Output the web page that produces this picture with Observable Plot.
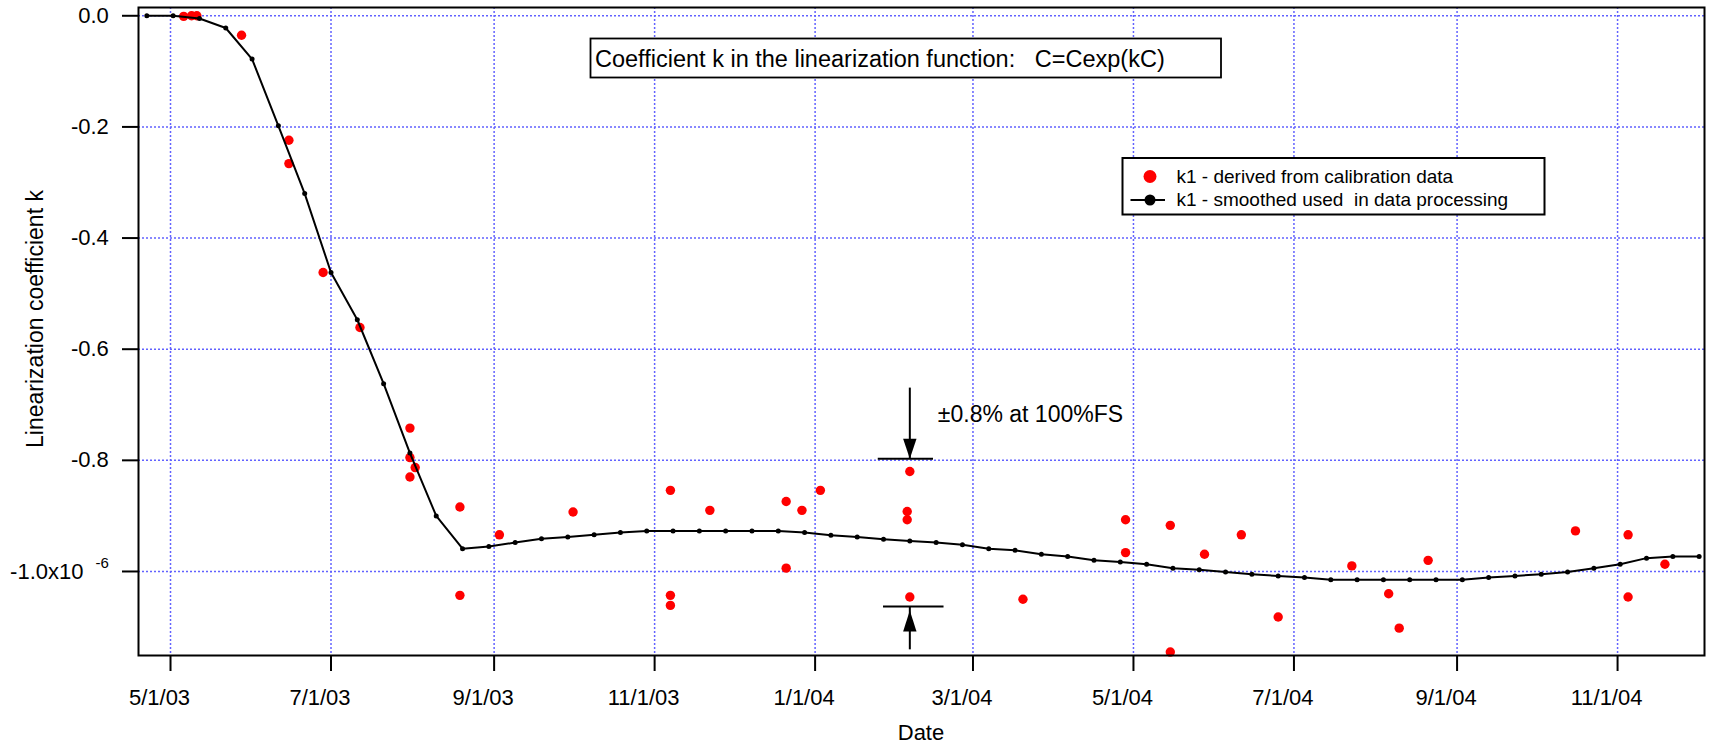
<!DOCTYPE html>
<html><head><meta charset="utf-8">
<script src="https://cdn.jsdelivr.net/npm/d3@7"></script>
<script src="https://cdn.jsdelivr.net/npm/@observablehq/plot@0.6"></script>
<style>
html,body{margin:0;padding:0;background:#fff;}
#chart{width:1712px;height:746px;}
</style></head><body><div id="chart"></div>
<script>
// ---------- data ----------
const smoothDates = [
"2003-04-22","2003-05-02","2003-05-12","2003-05-22","2003-06-01","2003-06-11","2003-06-21","2003-07-01","2003-07-11","2003-07-21",
"2003-07-31","2003-08-10","2003-08-20","2003-08-30","2003-09-09","2003-09-19","2003-09-29","2003-10-09","2003-10-19","2003-10-29",
"2003-11-08","2003-11-18","2003-11-28","2003-12-08","2003-12-18","2003-12-28","2004-01-07","2004-01-17","2004-01-27","2004-02-06",
"2004-02-16","2004-02-26","2004-03-07","2004-03-17","2004-03-27","2004-04-06","2004-04-16","2004-04-26","2004-05-06","2004-05-16",
"2004-05-26","2004-06-05","2004-06-15","2004-06-25","2004-07-05","2004-07-15","2004-07-25","2004-08-04","2004-08-14","2004-08-24",
"2004-09-03","2004-09-13","2004-09-23","2004-10-03","2004-10-13","2004-10-23","2004-11-02","2004-11-12","2004-11-22","2004-12-02"];
const smoothValues = [
0.000, 0.000, -0.005, -0.022, -0.078, -0.198, -0.320, -0.462, -0.547, -0.662,
-0.787, -0.900, -0.959, -0.955, -0.948, -0.941, -0.938, -0.934, -0.930, -0.927,
-0.927, -0.927, -0.927, -0.927, -0.927, -0.930, -0.935, -0.938, -0.942, -0.945,
-0.948, -0.952, -0.959, -0.962, -0.969, -0.973, -0.980, -0.983, -0.987, -0.994,
-0.997, -1.001, -1.005, -1.008, -1.011, -1.015, -1.015, -1.015, -1.015, -1.015,
-1.015, -1.011, -1.008, -1.005, -1.001, -0.994, -0.987, -0.976, -0.973, -0.973];

const redDates = [
"2003-05-06","2003-05-09","2003-05-11","2003-05-28",
"2003-06-15","2003-06-15","2003-06-28","2003-07-12",
"2003-07-31","2003-07-31","2003-08-02","2003-07-31",
"2003-08-19","2003-08-19","2003-09-03","2003-10-01",
"2003-11-07","2003-11-07","2003-11-07","2003-11-22",
"2003-12-21","2003-12-21","2003-12-27","2004-01-03",
"2004-02-06","2004-02-05","2004-02-05","2004-02-06",
"2004-03-20","2004-04-28","2004-04-28","2004-05-15",
"2004-05-15","2004-05-28","2004-06-11","2004-06-25",
"2004-07-23","2004-08-06","2004-08-10","2004-08-21",
"2004-10-16","2004-11-05","2004-11-05","2004-11-19"];
const redValues = [
-0.001, 0.000, 0.000, -0.035,
-0.224, -0.266, -0.462, -0.561,
-0.742, -0.795, -0.813, -0.830,
-0.884, -1.043, -0.934, -0.893,
-0.854, -1.043, -1.061, -0.890,
-0.874, -0.994, -0.890, -0.854,
-0.820, -0.892, -0.907, -1.046,
-1.050, -0.907, -0.966, -0.917,
-1.145, -0.969, -0.934, -1.082,
-0.990, -1.040, -1.102, -0.980,
-0.927, -0.934, -1.046, -0.987];

const xTickDates = ["2003-05-01","2003-07-01","2003-09-01","2003-11-01","2004-01-01","2004-03-01","2004-05-01","2004-07-01","2004-09-01","2004-11-01"];
const yTicks = [0, -0.2, -0.4, -0.6, -0.8, -1.0];
const yTickLabels = ["0.0", "-0.2", "-0.4", "-0.6", "-0.8", "-1.0x10"];
const yExponent = "-6";
const xDomain = ["2003-04-18T20:00Z", "2004-12-04T01:00Z"];
const yDomain = [-1.1512, 0.0149];

const titleText = "Coefficient k in the linearization function:   C=Cexp(kC)";
const legendLabels = ["k1 - derived from calibration data", "k1 - smoothed used  in data processing"];
const xLabel = "Date";
const yLabel = "Linearization coefficient k";

// annotation (±0.8% band around 2004-02-06)
const annText = "±0.8% at 100%FS";
const annDate = "2004-02-06";
const annTextValue = -0.717;
const annBarFrom = ["2004-01-25", "2004-01-27"];
const annBarTo = ["2004-02-15", "2004-02-19"];
const annBarValue = [-0.797, -1.063];
const annTail = [-0.670, -1.141];

// ---------- build ----------
const P = s => new Date(s.length > 10 ? s : s + "T00:00Z");
const smooth = smoothDates.map((d, i) => ({date: P(d), k: smoothValues[i]}));
const red = redDates.map((d, i) => ({date: P(d), k: redValues[i]}));
const xTicksD = xTickDates.map(P);
const fmtDate = d => `${d.getUTCMonth() + 1}/${d.getUTCDate()}/${String(d.getUTCFullYear()).slice(2)}`;
const fmtY = v => { const i = yTicks.findIndex(t => Math.abs(t - v) < 1e-9); return i >= 0 ? yTickLabels[i] : ""; };

const bars = annBarValue.map((v, i) => ({from: P(annBarFrom[i]), to: P(annBarTo[i]), v}));
const shafts = annTail.map((t, i) => ({date: P(annDate), tail: t, tip: annBarValue[i]}));
const headDown = {draw(c) { c.moveTo(0, 0); c.lineTo(-6.7, -20); c.lineTo(6.7, -20); c.closePath(); }};
const headUp = {draw(c) { c.moveTo(0, 4); c.lineTo(-6.7, 25); c.lineTo(6.7, 25); c.closePath(); }};

const FONT = '"Liberation Sans", Arial, Helvetica, sans-serif';
const grid = {stroke: "#6262ff", strokeOpacity: 1, strokeWidth: 1.5, strokeDasharray: "2,2"};

const svg = Plot.plot({
  width: 1712, height: 746,
  marginLeft: 138, marginRight: 8, marginTop: 7, marginBottom: 91,
  style: {fontFamily: FONT, fontSize: "22px", background: "#fff", color: "#000", overflow: "visible"},
  x: {type: "utc", domain: xDomain.map(P)},
  y: {domain: yDomain},
  marks: [
    Plot.gridX({ticks: xTicksD, ...grid}),
    Plot.gridY({ticks: yTicks, ...grid}),
    Plot.dot(red, {x: "date", y: "k", r: 4.7, fill: "#ff0000", stroke: "none"}),
    Plot.line(smooth, {x: "date", y: "k", stroke: "#000", strokeWidth: 2}),
    Plot.dot(smooth, {x: "date", y: "k", r: 2.5, fill: "#000", stroke: "none"}),
    Plot.ruleY(bars, {y: "v", x1: "from", x2: "to", stroke: "#000", strokeWidth: 2}),
    Plot.ruleX(shafts, {x: "date", y1: "tail", y2: d => d.tip, stroke: "#000", strokeWidth: 2}),
    Plot.dot([shafts[0]], {x: "date", y: "tip", symbol: headDown, r: 5, fill: "#000", stroke: "none"}),
    Plot.dot([shafts[1]], {x: "date", y: "tip", symbol: headUp, r: 5, fill: "#000", stroke: "none"}),
    Plot.text([{date: P(annDate), v: annTextValue, t: annText}], {x: "date", y: "v", text: "t", dx: 28, textAnchor: "start", fontSize: 23, fill: "#000"}),
    // x tick marks (no labels) and x tick labels (shifted left like the original)
    Plot.axisX({ticks: xTicksD, tickSize: 16, strokeWidth: 2, tickFormat: () => "", label: null}),
    Plot.axisX({ticks: xTicksD, tickSize: 0, tickPadding: 34, tickFormat: fmtDate, fontSize: 22, dx: -11, label: null}),
    Plot.axisY({ticks: yTicks, tickSize: 16, tickPadding: 13.7, strokeWidth: 2, tickFormat: fmtY, fontSize: 22, label: null}),
    Plot.frame({stroke: "#000", strokeWidth: 2})
  ]
});
document.getElementById("chart").appendChild(svg);

// ---------- post: exponent, labels, title box, legend ----------
const s = d3.select(svg);
s.selectAll("text").each(function() {
  if (this.textContent === yTickLabels[yTickLabels.length - 1]) {
    d3.select(this).append("tspan").attr("dx", 12).attr("dy", "-0.72em").attr("font-size", 15).text(yExponent);
  }
});
const g = s.append("g").attr("font-family", FONT).attr("fill", "#000").attr("text-anchor", "start");
g.append("text").attr("transform", "translate(42.5,319) rotate(-90)").attr("text-anchor", "middle")
  .attr("font-size", 23).text(yLabel);
g.append("text").attr("x", 921).attr("y", 739.5).attr("text-anchor", "middle").attr("font-size", 22).text(xLabel);

// title box
g.append("rect").attr("x", 590.5).attr("y", 38.5).attr("width", 630.5).attr("height", 39)
  .attr("fill", "#fff").attr("stroke", "#000").attr("stroke-width", 1.8);
g.append("text").attr("x", 595).attr("y", 66.5).attr("text-anchor", "start").attr("font-size", 23.5).style("white-space", "pre").text(titleText);

// legend
g.append("rect").attr("x", 1122.5).attr("y", 158).attr("width", 422).attr("height", 56.5)
  .attr("fill", "#fff").attr("stroke", "#000").attr("stroke-width", 2);
g.append("circle").attr("cx", 1150).attr("cy", 176.5).attr("r", 6.5).attr("fill", "#ff0000");
g.append("line").attr("x1", 1130.5).attr("x2", 1165).attr("y1", 200).attr("y2", 200).attr("stroke", "#000").attr("stroke-width", 2);
g.append("circle").attr("cx", 1150).attr("cy", 200).attr("r", 5.5).attr("fill", "#000");
g.append("text").attr("x", 1176.5).attr("y", 183.3).attr("text-anchor", "start").attr("font-size", 19).style("white-space", "pre").text(legendLabels[0]);
g.append("text").attr("x", 1176.5).attr("y", 205.5).attr("text-anchor", "start").attr("font-size", 19).style("white-space", "pre").text(legendLabels[1]);
</script>
</body></html>
